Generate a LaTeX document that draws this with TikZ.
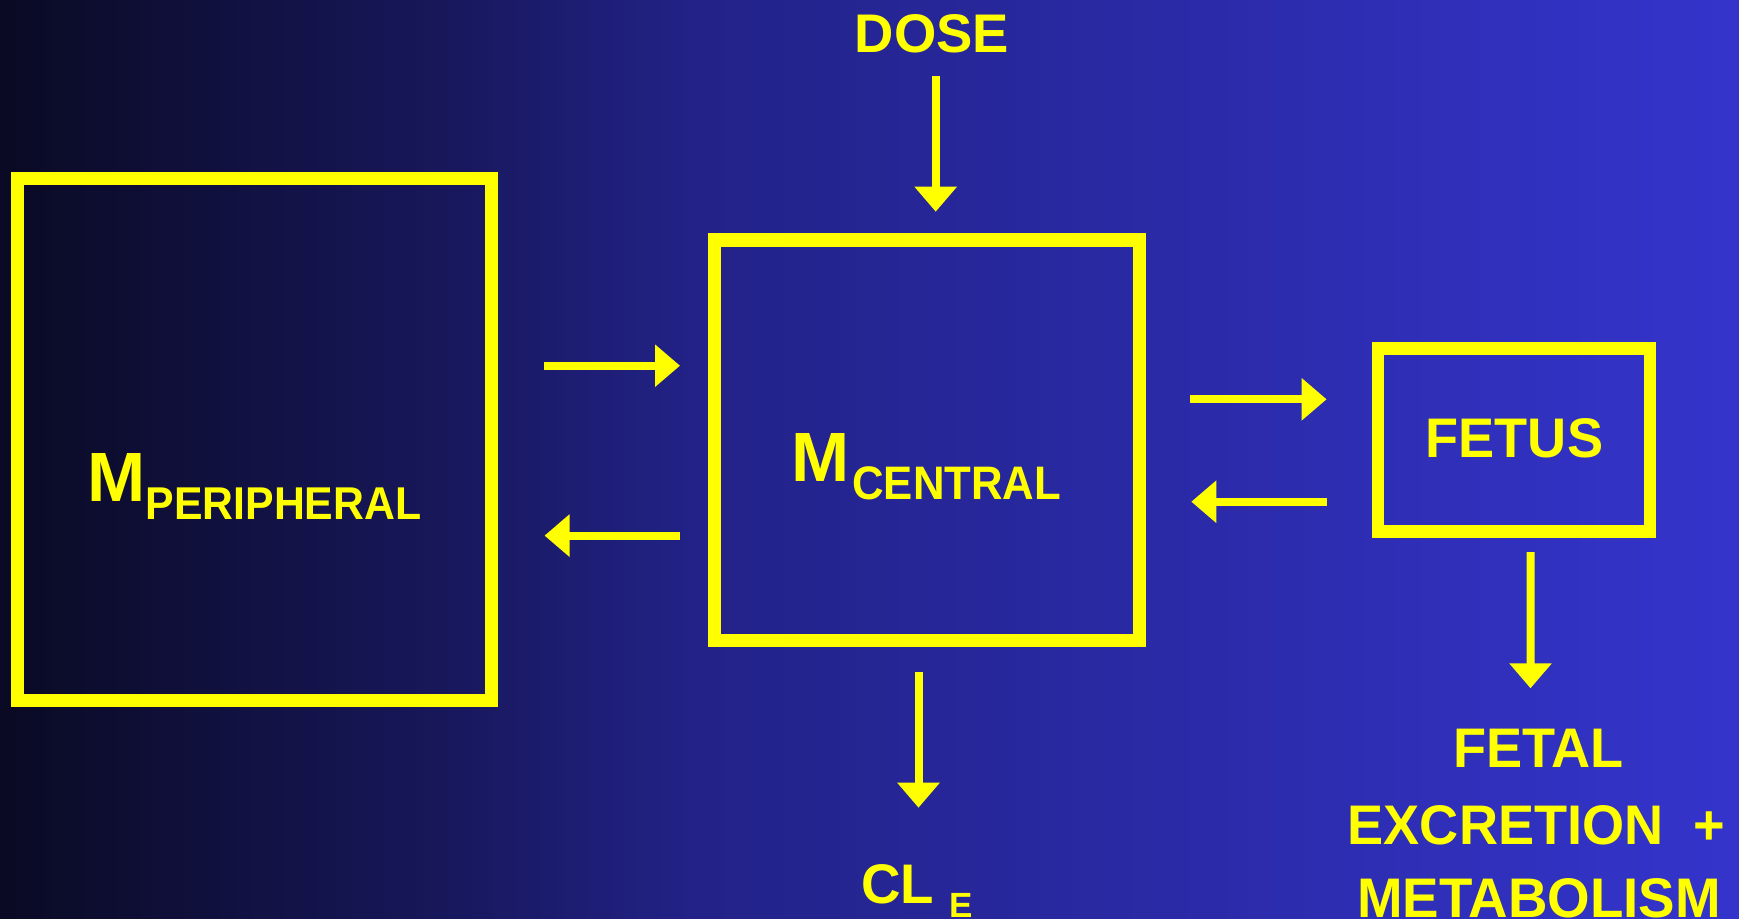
\documentclass[tikz,border=0pt]{standalone}
\usepackage{fontspec}
\usepackage{graphicx}
\setmainfont{Liberation Sans}
\usetikzlibrary{arrows.meta,calc}
\definecolor{ylw}{RGB}{255,255,0}
\definecolor{bgA}{RGB}{10,10,36}
\definecolor{bgB}{RGB}{23,23,90}
\definecolor{bgC}{RGB}{34,34,136}
\definecolor{bgD}{RGB}{52,52,204}
\pgfdeclarehorizontalshading{bgshade}{100bp}{color(0bp)=(bgA); color(25bp)=(bgA); color(37.5bp)=(bgB); color(45bp)=(bgC); color(75bp)=(bgD); color(100bp)=(bgD)}
\newcommand{\lbl}[3]{\fontsize{#1}{#1}\selectfont\bfseries\scalebox{#2}[1]{#3}}
\begin{document}
\begin{tikzpicture}[x=0.5pt,y=-0.5pt,
  box/.style={draw=ylw, line width=6.5pt, inner sep=0pt, outer sep=0pt, rectangle},
  arr/.style={draw=ylw, line width=4pt, -{Triangle[length=12.5pt,width=20.5pt]}},
  txt/.style={text=ylw, inner sep=0pt, anchor=base}]
\useasboundingbox (0,0) rectangle (1739,919);
\shade[shading=bgshade] (0,0) rectangle (1739,919);
% boxes
\node[box, minimum width=237pt, minimum height=260.75pt] (periph) at (254.5,439.25) {};
\node[box, line width=6.75pt, minimum width=212.5pt, minimum height=200.25pt] (central) at (927,440.25) {};
\node[box, line width=6.25pt, minimum width=136pt, minimum height=91.5pt] (fetus) at (1513.8,440) {};
% labels
\node[txt] (dose) at (931.9,52.7) {\lbl{27.2}{1}{DOSE}};
\node[txt] (mp) at (116.2,501.7) {\lbl{34.9}{1}{M}};
\node[txt] (mpsub) at (283.5,519) {\lbl{23}{0.93}{PERIPHERAL}};
\node[txt] (mc) at (820.5,481.7) {\lbl{34.9}{1}{M}};
\node[txt] (mcsub) at (956.7,499.3) {\lbl{23.5}{0.93}{CENTRAL}};
\node[txt] (fetuslbl) at (1514.4,457.3) {\lbl{27.9}{0.97}{FETUS}};
\node[txt] (cl) at (897.5,903.5) {\lbl{27.9}{0.98}{CL}};
\node[txt] (cle) at (961.5,917) {\lbl{17.5}{1}{E}};
\node[txt] (fet1) at (1538.3,767.7) {\lbl{27.9}{0.97}{FETAL}};
\node[txt] (fet2) at (1536.5,844) {\lbl{27.9}{0.97}{EXCRETION~~+}};
\node[txt] (fet3) at (1539,917.5) {\lbl{27.9}{0.98}{METABOLISM}};
% arrows
\draw[arr] ($(dose.base)+(3.8,23.3)$) -- ($(central.north)+(8.7,-28.3)$);
\draw[arr] ($(periph.east)+(52.5,-73.55)$) -- ($(central.west)+(-34.5,-74.55)$);
\draw[arr] ($(central.west)+(-34.5,95.35)$) -- ($(periph.east)+(53,96.35)$);
\draw[arr] ($(central.east)+(50.5,-40.95)$) -- ($(fetus.west)+(-51.2,-40.7)$);
\draw[arr] ($(fetus.west)+(-51.2,61.7)$) -- ($(central.east)+(51.8,61.45)$);
\draw[arr] ($(central.south)+(-8.5,31.2)$) -- ($(cl.base)+(21,-95.8)$);
\draw[arr] ($(fetus.south)+(16.7,20.5)$) -- ($(fet1.base)+(-7.8,-79.4)$);
\end{tikzpicture}
\end{document}
